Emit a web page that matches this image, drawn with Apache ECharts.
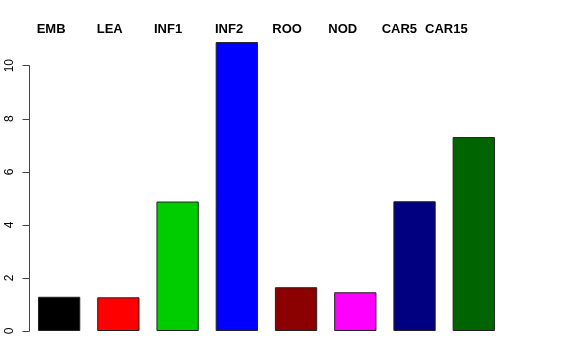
<!DOCTYPE html>
<html>
<head>
<meta charset="utf-8">
<script src="https://cdn.jsdelivr.net/npm/echarts@6/dist/echarts.min.js"></script>
<style>html,body{margin:0;padding:0;background:#fff}#c{width:576px;height:360px}</style>
</head>
<body>
<div id="c"></div>
<script>
const categories = ["EMB", "LEA", "INF1", "INF2", "ROO", "NOD", "CAR5", "CAR15"];
const values = [1.29, 1.27, 4.88, 10.89, 1.65, 1.46, 4.89, 7.31];
const colors = ["#000000", "#FF0000", "#00CD00", "#0000FF", "#8B0000", "#FF00FF", "#000080", "#006400"];
const yTicks = [0, 2, 4, 6, 8, 10];
const labelLefts = [36.7, 96.7, 154, 215, 272.3, 328.3, 381.7, 425];

const chart = echarts.init(document.getElementById('c'), null, {renderer: 'canvas'});
chart.setOption({
  animation: false,
  backgroundColor: '#fff',
  grid: {left: 29.5, right: 72.6, top: 65.7, bottom: 29},
  xAxis: {
    type: 'category', data: categories,
    axisLine: {show: false}, axisTick: {show: false}, axisLabel: {show: false}, splitLine: {show: false}
  },
  yAxis: {
    type: 'value', min: yTicks[0], max: yTicks[yTicks.length - 1], interval: 2,
    axisLine: {show: true, lineStyle: {color: '#444', width: 1}},
    axisTick: {show: true, length: 7, lineStyle: {color: '#444', width: 1}},
    splitLine: {show: false},
    axisLabel: {rotate: 90, margin: 14, fontSize: 12, color: '#000', fontFamily: 'Liberation Sans, Arial, sans-serif'}
  },
  series: [{
    type: 'bar', clip: false, barWidth: '71.4%',
    data: values.map((v, i) => ({value: v, itemStyle: {color: colors[i]}})),
    itemStyle: {borderColor: '#222', borderWidth: 1}
  }],
  graphic: categories.map((c, i) => ({
    type: 'text', left: labelLefts[i], top: 23,
    style: {text: c, fontSize: 13, fontWeight: 'bold', fill: '#000', fontFamily: 'Liberation Sans, Arial, sans-serif'}
  }))
});
</script>
</body>
</html>
